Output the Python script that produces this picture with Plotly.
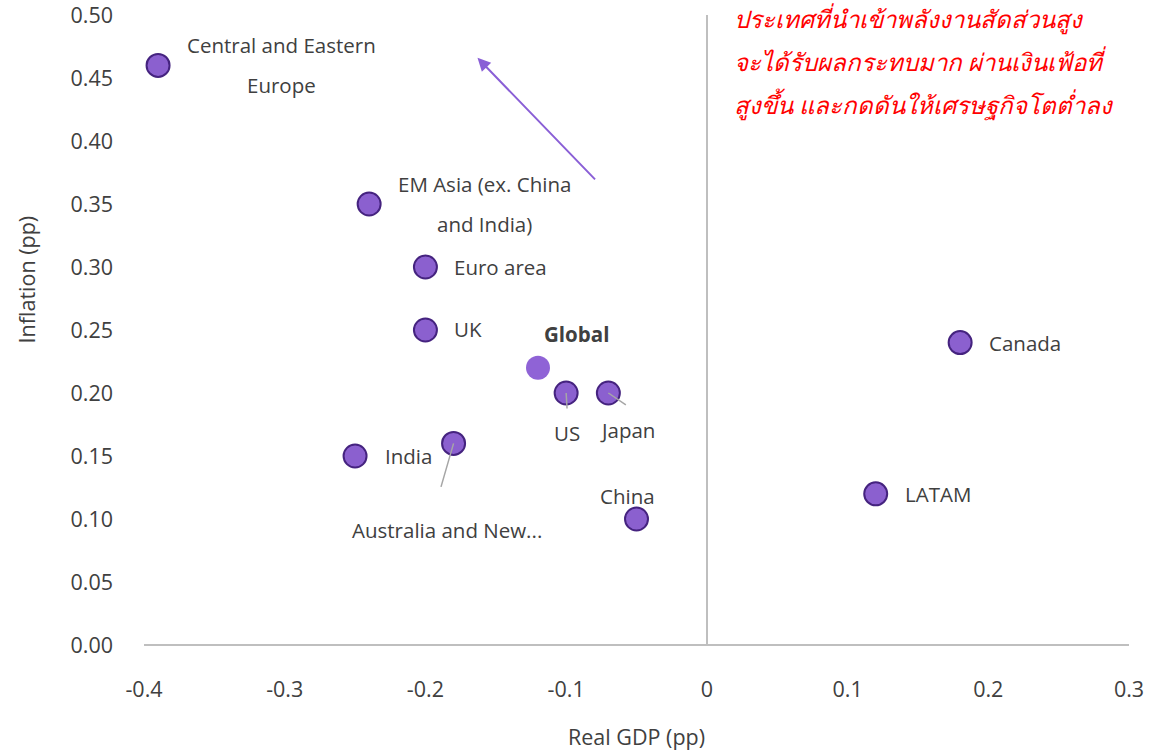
import plotly.graph_objects as go

# Impact of higher energy prices by region (percentage points)
regions = ["Central and Eastern Europe", "EM Asia (ex. China and India)", "Euro area", "UK",
           "US", "Japan", "India", "Australia and New...", "China", "Canada", "LATAM"]
real_gdp = [-0.39, -0.24, -0.20, -0.20, -0.10, -0.07, -0.25, -0.18, -0.05, 0.18, 0.12]
inflation = [0.46, 0.35, 0.30, 0.25, 0.20, 0.20, 0.15, 0.16, 0.10, 0.24, 0.12]

global_gdp = [-0.12]
global_inflation = [0.22]

x_ticks = [-0.4, -0.3, -0.2, -0.1, 0, 0.1, 0.2, 0.3]
x_tick_labels = ["-0.4", "-0.3", "-0.2", "-0.1", "0", "0.1", "0.2", "0.3"]
y_ticks = [0.0, 0.05, 0.10, 0.15, 0.20, 0.25, 0.30, 0.35, 0.40, 0.45, 0.50]

note_lines = ["ประเทศที่นำเข้าพลังงานสัดส่วนสูง",
              "จะได้รับผลกระทบมาก ผ่านเงินเฟ้อที่",
              "สูงขึ้น และกดดันให้เศรษฐกิจโตต่ำลง"]

FONT = "Open Sans"
TEXT = "#404040"
PURPLE = "#8b60cf"
LABEL_SIZE = 20.5
AXIS_SIZE = 21.5

fig = go.Figure()
fig.add_trace(go.Scatter(
    x=real_gdp, y=inflation, mode="markers",
    marker=dict(size=23, color=PURPLE, line=dict(color="#45237f", width=2)),
    hoverinfo="skip", showlegend=False, cliponaxis=False))
fig.add_trace(go.Scatter(
    x=global_gdp, y=global_inflation, mode="markers",
    marker=dict(size=24, color="#8f63d6", line=dict(width=0)),
    hoverinfo="skip", showlegend=False, cliponaxis=False))

# label placement: (region index, text lines, pixel offset x, pixel offset y, anchor)
label_specs = [
    (0, ["Central and Eastern", "Europe"], 123, 20, "center"),
    (1, ["EM Asia (ex. China", "and India)"], 115, 20, "center"),
    (2, ["Euro area"], 27, 0, "left"),
    (3, ["UK"], 27, 1, "left"),
    (4, ["US"], 1, -40, "center"),
    (5, ["Japan"], 19, -37, "center"),
    (6, ["India"], 28, 0, "left"),
    (7, ["Australia and New..."], -7, -87, "center"),
    (8, ["China"], -9, 23, "center"),
    (9, ["Canada"], 27, 0, "left"),
    (10, ["LATAM"], 27, 0, "left"),
]
for idx, lines, dx, dy, anchor in label_specs:
    for k, line in enumerate(lines):
        fig.add_annotation(
            x=real_gdp[idx], y=inflation[idx], text=line, showarrow=False,
            xanchor=anchor, yanchor="middle", xshift=dx, yshift=dy - 40 * k,
            font=dict(family=FONT, size=LABEL_SIZE, color=TEXT))

fig.add_annotation(
    x=global_gdp[0], y=global_inflation[0], text="<b>Global</b>", showarrow=False,
    xanchor="center", yanchor="middle", xshift=38, yshift=34,
    font=dict(family=FONT, size=LABEL_SIZE, color=TEXT))

# leader lines from crowded labels to their markers
leaders = [(4, 1, 17), (5, 19, 13), (7, -13, 45)]
for idx, ax, ay in leaders:
    fig.add_annotation(
        x=real_gdp[idx], y=inflation[idx], ax=ax, ay=ay, text="",
        showarrow=True, arrowhead=0, arrowwidth=1.5, arrowcolor="#a6a6a6",
        standoff=0, startstandoff=0)

# direction arrow towards high-inflation / low-growth corner
fig.add_annotation(
    x=-0.163, y=0.466, ax=119, ay=123, text="", showarrow=True,
    arrowhead=2, arrowsize=1.3, arrowwidth=2, arrowcolor="#8a5fd6")

for k, line in enumerate(note_lines):
    fig.add_annotation(
        x=0.018, y=0.497, text="<i>" + line + "</i>", showarrow=False,
        xanchor="left", yanchor="middle", yshift=-43 * k,
        font=dict(family="Noto Sans", size=24, color="#ff0000"))

# axis titles
fig.add_annotation(
    xref="paper", yref="paper", x=-0.119, y=0.58, text="Inflation (pp)",
    textangle=-90, showarrow=False, xanchor="center", yanchor="middle",
    font=dict(family=FONT, size=AXIS_SIZE, color=TEXT))
fig.add_annotation(
    xref="paper", yref="paper", x=0.5, y=-0.146, text="Real GDP (pp)",
    showarrow=False, xanchor="center", yanchor="middle",
    font=dict(family=FONT, size=AXIS_SIZE, color=TEXT))

fig.update_layout(
    width=1168, height=753,
    margin=dict(l=144, r=39, t=15, b=108),
    paper_bgcolor="white", plot_bgcolor="white",
    font=dict(family=FONT, size=LABEL_SIZE, color=TEXT),
    xaxis=dict(range=[-0.4, 0.3], tickvals=x_ticks, ticktext=x_tick_labels,
               showgrid=False, zeroline=True, zerolinecolor="#bfbfbf", zerolinewidth=2,
               showline=False, ticks="", ticklabelstandoff=29, automargin=False,
               ticklabeloverflow="allow",
               tickfont=dict(family=FONT, size=AXIS_SIZE, color=TEXT)),
    yaxis=dict(range=[0, 0.5], tickvals=y_ticks, tickformat=".2f",
               showgrid=False, zeroline=True, zerolinecolor="#bfbfbf", zerolinewidth=2,
               showline=False, ticks="", ticklabelstandoff=30, automargin=False,
               ticklabeloverflow="allow",
               tickfont=dict(family=FONT, size=AXIS_SIZE, color=TEXT)),
)

fig.write_html("out.html")
